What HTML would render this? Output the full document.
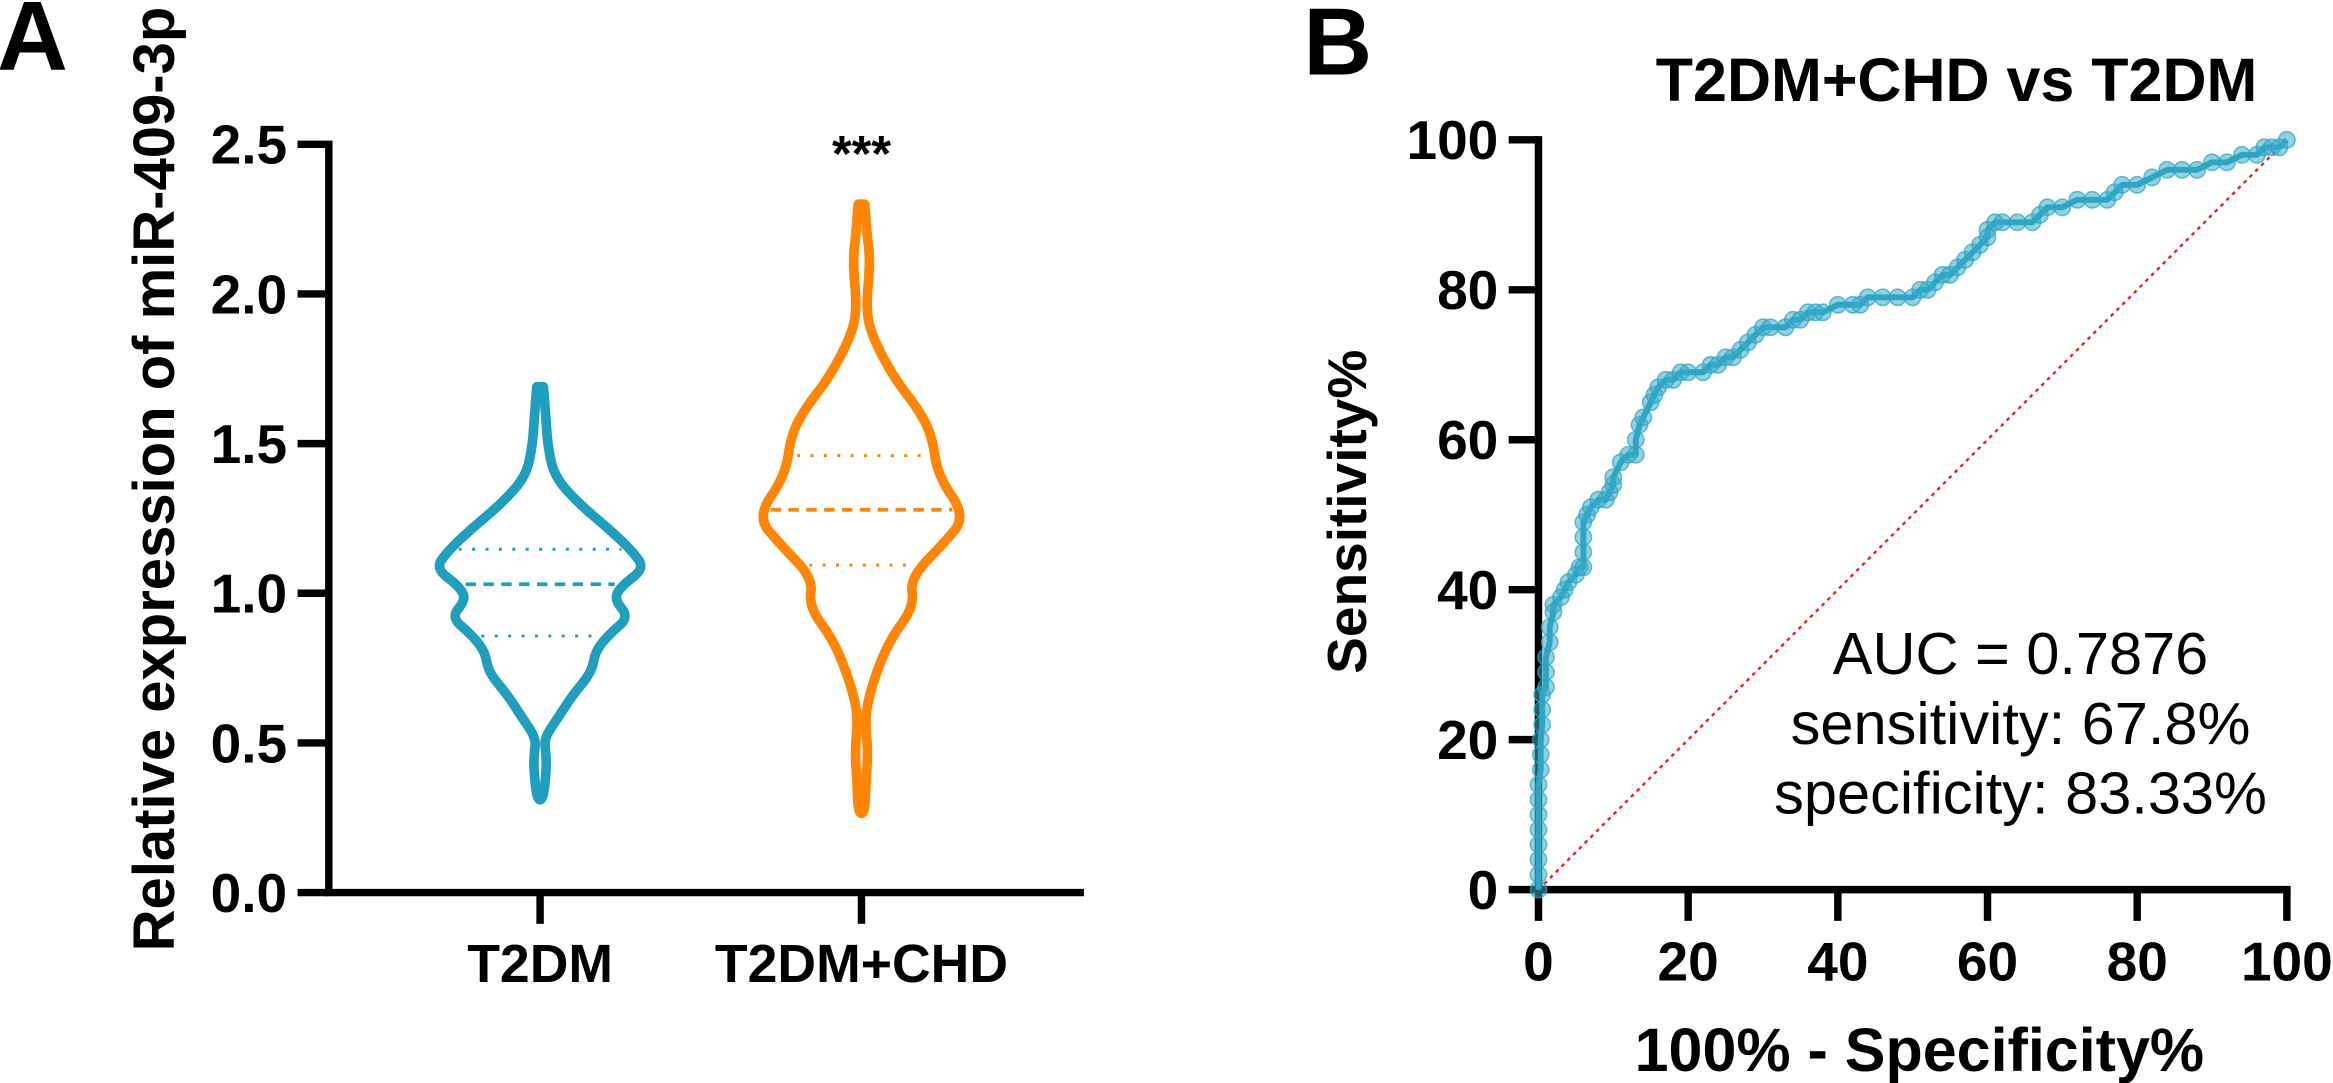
<!DOCTYPE html>
<html><head><meta charset="utf-8"><style>
html,body{margin:0;padding:0;background:#fff;width:2333px;height:1083px;overflow:hidden}
svg{display:block;font-family:"Liberation Sans",Arial,sans-serif}
.b{font-weight:bold}
</style></head><body>
<svg id="fig" width="2333" height="1083" viewBox="0 0 1568 728" preserveAspectRatio="none" xmlns="http://www.w3.org/2000/svg">
<g id="gA"></g>
<g id="gB"></g>
</svg>
<script>
// ---- Panel A data ----
const categories = ["T2DM", "T2DM+CHD"];
const yTicksA = [0.0, 0.5, 1.0, 1.5, 2.0, 2.5];
const t2dmVals = [1.69,1.6,1.49,1.39,1.30,1.21,1.14,1.083,1.025,0.98,0.92,0.864,0.806,0.737,0.657,0.588,0.518,0.47,0.426,0.31];
const t2dmWidth = [0.03,0.05,0.07,0.13,0.35,0.64,0.84,0.95,0.74,0.67,0.81,0.63,0.5,0.47,0.29,0.17,0.04,0.05,0.06,0.03];
const chdVals = [2.30,2.2,2.108,1.947,1.855,1.717,1.624,1.53,1.394,1.256,1.164,1.05,0.956,0.841,0.70,0.588,0.472,0.37,0.265];
const chdWidth = [0.03,0.05,0.08,0.04,0.1,0.3,0.5,0.64,0.69,0.95,0.74,0.44,0.48,0.25,0.1,0.03,0.06,0.04,0.03];
const t2dmQuart = [0.857, 1.03, 1.147];
const chdQuart = [1.094, 1.279, 1.46];
// ---- Panel B data ----
const rocX = [0,0,0,0,0,0,0,0,0.3,0.3,0.3,0.5,0.5,0.5,1,1,1,1.5,1.5,2,2,3,3.5,4,5,5.5,6,6,6,6,6.5,7,8,9,9.5,10,10,11,12,13,13,13.5,14,15,15.5,16,17,18,19,20,22,23,24,25,26,27,28,29,30,31,33,34,35,36,37,38,40,42,43,44,46,48,50,51,52,53,54,55,56,57,58,59,60,60,61,62,64,66,67,68,70,72,74,76,77,78,80,82,84,86,88,90,92,94,96,97,98,99,100];
const rocY = [0,2,4,6,8,10,12,14,16,18,20,22,24,26,27,29,31,33,35,37,38,39,40,41,42,43,43,45,47,49,50,51,52,52,53,54,55,57,58,58,60,62,63,65,66,67,68,68,69,69,69,70,70,71,71,72,73,74,75,75,75,76,76,77,77,77,78,78,78,79,79,79,79,80,80,81,82,82,83,84,85,86,87,88,89,89,89,89,90,91,91,92,92,92,93,94,94,95,96,96,96,97,97,98,98,99,99,99,100];
const bTicks = [0,20,40,60,80,100];

const NS="http://www.w3.org/2000/svg";
function mk(parent,tag,attrs,text){const e=document.createElementNS(NS,tag);for(const k in attrs)e.setAttribute(k,attrs[k]);if(text!==undefined)e.textContent=text;parent.appendChild(e);return e;}
const TEAL="#1f9fbd", ORANGE="#ff8507";

// Panel A
const gA=document.getElementById('gA');
const AX=221, AY0=600, AYT=97;
const ay=v=>AY0-(v/2.5)*(AY0-AYT);
const cx=[363,579];
const HW=74;
let t=mk(gA,'text',{x:-2,y:47,'font-size':66,class:'b'},'A');


t=mk(gA,'text',{x:0,y:0,'font-size':39,class:'b','text-anchor':'middle',transform:'translate(117,322) rotate(-90)'},'Relative expression of miR-409-3p');


let ln=mk(gA,'path',{d:`M${AX} ${AYT} V${AY0} H726`,stroke:'#000','stroke-width':5,fill:'none','stroke-linecap':'square'});


yTicksA.forEach(v=>{
  const l=mk(gA,'line',{x1:AX-21,x2:AX,y1:ay(v),y2:ay(v),stroke:'#000','stroke-width':5});
  
  
  const tx=mk(gA,'text',{x:AX-28,y:ay(v)+13,'font-size':37,class:'b','text-anchor':'end'},v.toFixed(1));
  
  
});
categories.forEach((c,i)=>{
  const l=mk(gA,'line',{x1:cx[i],x2:cx[i],y1:AY0,y2:AY0+21,stroke:'#000','stroke-width':5});
  
  
  const tx=mk(gA,'text',{x:cx[i],y:660,'font-size':36,class:'b','text-anchor':'middle'},c);
  
  
});
function violin(vals,wid,quart,c,col,name){
  const g=mk(gA,'g',{});
  
  
  const right=vals.map((v,i)=>[c+wid[i]*HW,ay(v)]);
  const left=vals.map((v,i)=>[c-wid[i]*HW,ay(v)]).reverse();
  const pts=right.concat(left);
  let d=`M${c},${pts[0][1]} L${pts[0][0]},${pts[0][1]}`;
  for(let i=1;i<pts.length;i++){const p0=pts[i-1],p1=pts[i];const mx=(p0[0]+p1[0])/2,my=(p0[1]+p1[1])/2;d+=` Q${p0[0]},${p0[1]} ${mx},${my}`;}
  d+=` L${pts[pts.length-1][0]},${pts[pts.length-1][1]} Z`;
  const p=mk(g,'path',{d,fill:'none',stroke:col,'stroke-width':6.5,'stroke-linejoin':'round'});
  
  
  function widthAt(v){for(let i=0;i<vals.length-1;i++){if(v<=vals[i]&&v>=vals[i+1]){const f=(vals[i]-v)/(vals[i]-vals[i+1]);return (wid[i]+f*(wid[i+1]-wid[i]))*HW;}}return 0;}
  quart.forEach((q,k)=>{
    const w=widthAt(q)-6;
    const l=mk(g,'line',{x1:c-w,x2:c+w,y1:ay(q),y2:ay(q),stroke:col,'stroke-width':k==1?2.5:2,'stroke-dasharray':k==1?'7,5':'2,7'});
    
    
  });
}
violin(t2dmVals,t2dmWidth,t2dmQuart,cx[0],TEAL,'violin-t2dm');
violin(chdVals,chdWidth,chdQuart,cx[1],ORANGE,'violin-t2dm-chd');
t=mk(gA,'text',{x:cx[1],y:115,'font-size':34,class:'b','text-anchor':'middle'},'***');



// Panel B
const gB=document.getElementById('gB');
const bx=v=>1034+v/100*503, by=v=>598-v/100*504;
t=mk(gB,'text',{x:876,y:50,'font-size':64,class:'b'},'B');


t=mk(gB,'text',{x:1315,y:68,'font-size':41,class:'b','text-anchor':'middle'},'T2DM+CHD vs T2DM');


t=mk(gB,'text',{x:0,y:0,'font-size':37,class:'b','text-anchor':'middle',transform:'translate(918,344) rotate(-90)'},'Sensitivity%');


t=mk(gB,'text',{x:1290,y:720,'font-size':41,class:'b','text-anchor':'middle'},'100% - Specificity%');


ln=mk(gB,'path',{d:`M1034 ${by(100)} V598 H${bx(100)}`,stroke:'#000','stroke-width':5,fill:'none','stroke-linecap':'square'});


bTicks.forEach(v=>{
  let l=mk(gB,'line',{x1:1014,x2:1034,y1:by(v),y2:by(v),stroke:'#000','stroke-width':5});
  
  
  let tx=mk(gB,'text',{x:1007,y:by(v)+13,'font-size':37,class:'b','text-anchor':'end'},v);
  
  
  l=mk(gB,'line',{x1:bx(v),x2:bx(v),y1:598,y2:619,stroke:'#000','stroke-width':5});
  
  
  tx=mk(gB,'text',{x:bx(v),y:659,'font-size':37,class:'b','text-anchor':'middle'},v);
  
  
});
ln=mk(gB,'line',{x1:bx(0),y1:by(0),x2:bx(100),y2:by(100),stroke:'#e8231f','stroke-width':1.6,'stroke-dasharray':'2.5,3'});


const pl=mk(gB,'polyline',{points:rocX.map((x,i)=>bx(x)+','+by(rocY[i])).join(' '),fill:'none',stroke:TEAL,'stroke-width':4,'stroke-linejoin':'round'});


rocX.forEach((x,i)=>{
  const c=mk(gB,'circle',{cx:bx(x),cy:by(rocY[i]),r:5.5,fill:'#3aabc9','fill-opacity':0.55,stroke:'#2aa3c4','stroke-opacity':0.7,'stroke-width':1});
  
  
});
[['AUC = 0.7876',453],['sensitivity: 67.8%',500],['specificity: 83.33%',547]].forEach(([s,y])=>{
  const tx=mk(gB,'text',{x:1358,y:y,'font-size':40,'text-anchor':'middle'},s);
  
  
});
</script>
</body></html>
